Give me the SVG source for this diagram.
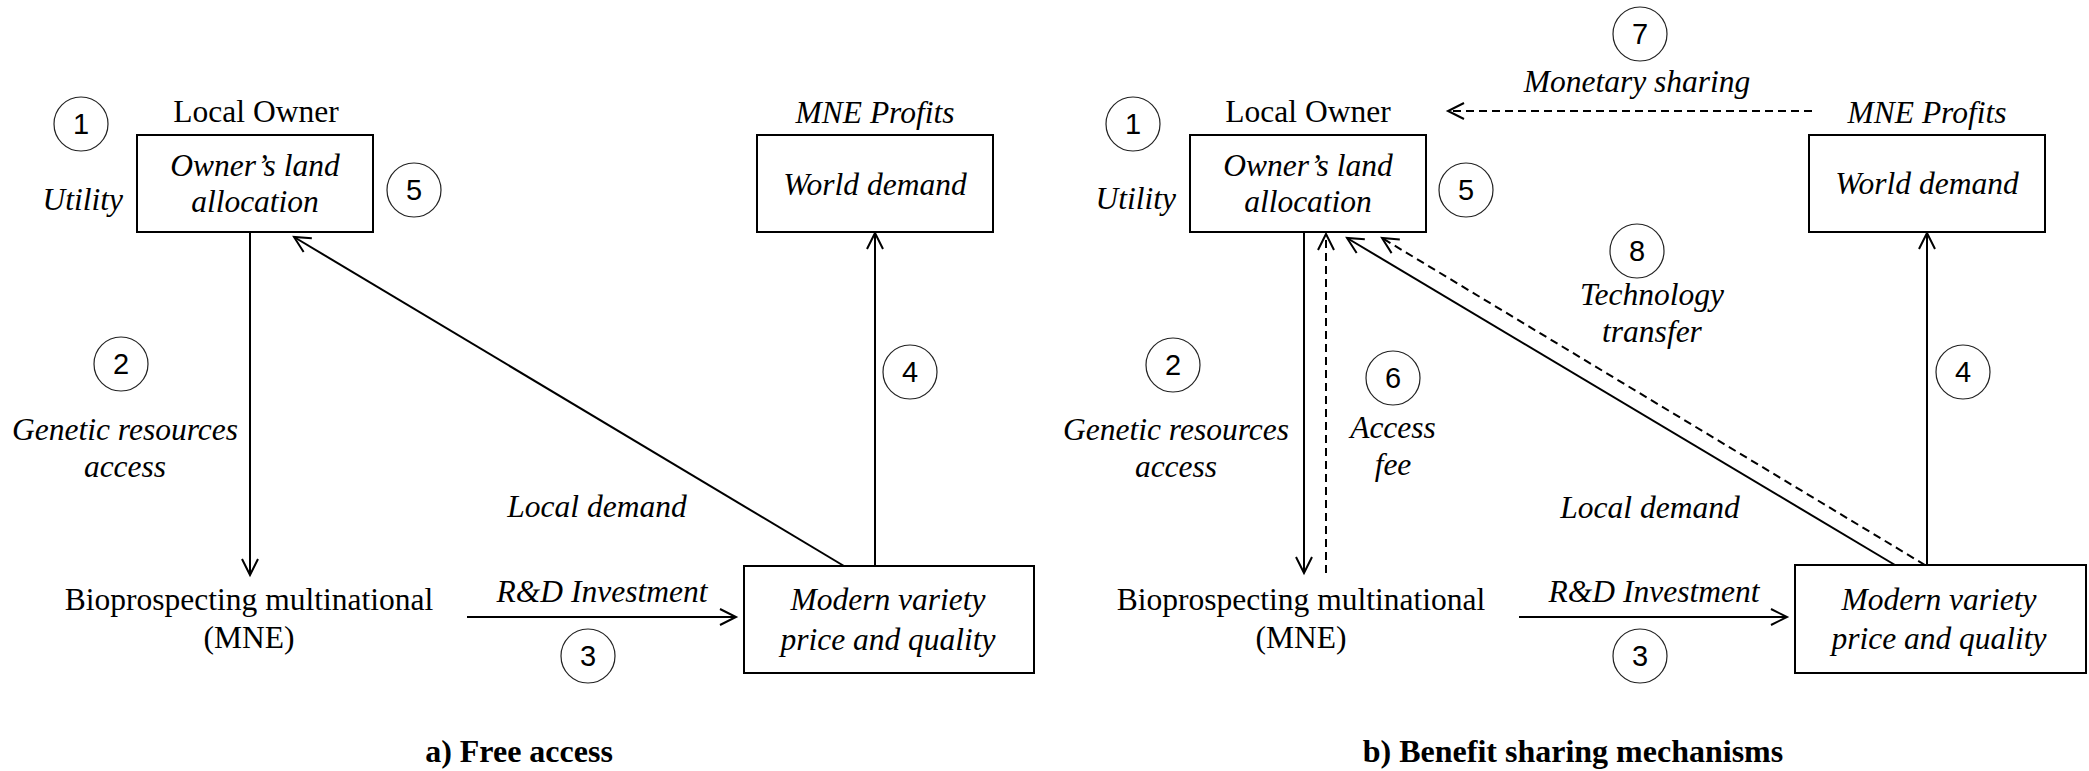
<svg xmlns="http://www.w3.org/2000/svg" width="2089" height="771" viewBox="0 0 2089 771">
<style>
text{font-family:"Liberation Serif","Times New Roman",serif;font-size:31.5px;fill:#000;text-anchor:middle}
.i{font-style:italic}
.r{text-anchor:end}
.t{font-weight:bold;font-size:32px}
.n{font-family:"Liberation Sans",Arial,sans-serif;font-size:29px}
.box{fill:#fff;stroke:#000;stroke-width:2}
.c{fill:none;stroke:#222;stroke-width:1.2}
.ln{fill:none;stroke:#000;stroke-width:2}
.d{stroke-dasharray:8 5}
.a{marker-end:url(#arr)}
</style>
<defs>
<marker id="arr" markerUnits="userSpaceOnUse" markerWidth="24" markerHeight="24" viewBox="-20 -12 24 24" refX="0" refY="0" orient="auto">
<path d="M-16,-8 L0,0 L-16,8" fill="none" stroke="#000" stroke-width="2"/>
</marker>
</defs>
<g id="connectors">
<line class="ln a" x1="250" y1="232" x2="250" y2="575"/>
<line class="ln a" x1="467" y1="617" x2="736" y2="617"/>
<line class="ln a" x1="844" y1="566" x2="294" y2="237"/>
<line class="ln a" x1="875" y1="566" x2="875" y2="233"/>
<line class="ln a" x1="1304" y1="232" x2="1304" y2="573"/>
<line class="ln d a" x1="1326" y1="573" x2="1326" y2="234"/>
<line class="ln a" x1="1519" y1="617" x2="1787" y2="617"/>
<line class="ln a" x1="1895" y1="565" x2="1347" y2="238"/>
<line class="ln d a" x1="1925" y1="565" x2="1382" y2="238"/>
<line class="ln a" x1="1927" y1="565" x2="1927" y2="233"/>
<line class="ln d a" x1="1812" y1="111" x2="1448" y2="111"/>
</g>
<g id="a-owner">
<rect class="box" x="137" y="135" width="236" height="97"/>
<text x="256" y="122">Local Owner</text>
<text class="i" x="255" y="176">Owner’s land</text>
<text class="i" x="255" y="212">allocation</text>
<text class="i r" x="123" y="210">Utility</text>
</g>
<g id="a-world">
<rect class="box" x="757" y="135" width="236" height="97"/>
<text class="i" x="875" y="123">MNE Profits</text>
<text class="i" x="875" y="195">World demand</text>
</g>
<g id="a-mne">
<text x="249" y="610">Bioprospecting multinational</text>
<text x="249" y="648">(MNE)</text>
</g>
<g id="a-modern">
<rect class="box" x="744" y="566" width="290" height="107"/>
<text class="i" x="888" y="610">Modern variety</text>
<text class="i" x="888" y="650">price and quality</text>
</g>
<g id="a-labels">
<text class="i" x="125" y="440">Genetic resources</text>
<text class="i" x="125" y="477">access</text>
<text class="i" x="602" y="602">R&amp;D Investment</text>
<text class="i" x="597" y="517">Local demand</text>
<text class="t" x="519" y="762">a) Free access</text>
</g>
<g id="a-numbers">
<ellipse class="c" cx="81" cy="124" rx="27" ry="27"/><text class="n" x="81" y="134">1</text>
<ellipse class="c" cx="121" cy="364" rx="27" ry="27"/><text class="n" x="121" y="374">2</text>
<ellipse class="c" cx="588" cy="656" rx="27" ry="27"/><text class="n" x="588" y="666">3</text>
<ellipse class="c" cx="910" cy="372" rx="27" ry="27"/><text class="n" x="910" y="382">4</text>
<ellipse class="c" cx="414" cy="190" rx="27" ry="27"/><text class="n" x="414" y="200">5</text>
</g>
<g id="b-owner">
<rect class="box" x="1190" y="135" width="236" height="97"/>
<text x="1308" y="122">Local Owner</text>
<text class="i" x="1308" y="176">Owner’s land</text>
<text class="i" x="1308" y="212">allocation</text>
<text class="i r" x="1176" y="209">Utility</text>
</g>
<g id="b-world">
<rect class="box" x="1809" y="135" width="236" height="97"/>
<text class="i" x="1927" y="123">MNE Profits</text>
<text class="i" x="1927" y="194">World demand</text>
</g>
<g id="b-mne">
<text x="1301" y="610">Bioprospecting multinational</text>
<text x="1301" y="648">(MNE)</text>
</g>
<g id="b-modern">
<rect class="box" x="1795" y="565" width="291" height="108"/>
<text class="i" x="1939" y="610">Modern variety</text>
<text class="i" x="1939" y="649">price and quality</text>
</g>
<g id="b-labels">
<text class="i" x="1176" y="440">Genetic resources</text>
<text class="i" x="1176" y="477">access</text>
<text class="i" x="1393" y="438">Access</text>
<text class="i" x="1393" y="475">fee</text>
<text class="i" x="1654" y="602">R&amp;D Investment</text>
<text class="i" x="1650" y="518">Local demand</text>
<text class="i" x="1637" y="92">Monetary sharing</text>
<text class="i" x="1652" y="305">Technology</text>
<text class="i" x="1652" y="342">transfer</text>
<text class="t" x="1573" y="762">b) Benefit sharing mechanisms</text>
</g>
<g id="b-numbers">
<ellipse class="c" cx="1133" cy="124" rx="27" ry="27"/><text class="n" x="1133" y="134">1</text>
<ellipse class="c" cx="1173" cy="365" rx="27" ry="27"/><text class="n" x="1173" y="375">2</text>
<ellipse class="c" cx="1640" cy="656" rx="27" ry="27"/><text class="n" x="1640" y="666">3</text>
<ellipse class="c" cx="1963" cy="372" rx="27" ry="27"/><text class="n" x="1963" y="382">4</text>
<ellipse class="c" cx="1466" cy="190" rx="27" ry="27"/><text class="n" x="1466" y="200">5</text>
<ellipse class="c" cx="1393" cy="378" rx="27" ry="27"/><text class="n" x="1393" y="388">6</text>
<ellipse class="c" cx="1640" cy="34" rx="27" ry="27"/><text class="n" x="1640" y="44">7</text>
<ellipse class="c" cx="1637" cy="251" rx="27" ry="27"/><text class="n" x="1637" y="261">8</text>
</g>
</svg>
